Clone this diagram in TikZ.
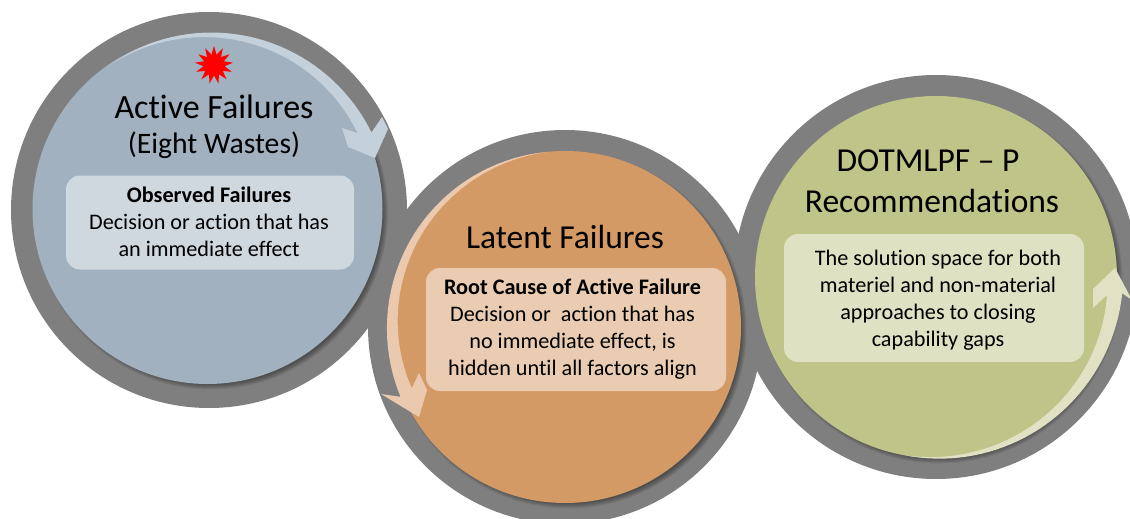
\documentclass[tikz,border=0pt]{standalone}
\usepackage{fontspec}
\usetikzlibrary{shapes.geometric}
\setmainfont[Ligatures=NoCommon]{Carlito}
\definecolor{ringgray}{HTML}{7F7F7F}
\definecolor{activeblue}{HTML}{A1B1BF}
\definecolor{activeband}{HTML}{C4D0DA}
\definecolor{latentorange}{HTML}{D49A66}
\definecolor{latentband}{HTML}{EAC9AF}
\definecolor{solutiongreen}{HTML}{BFC488}
\definecolor{solutionband}{HTML}{E0E2C3}
\tikzset{
    ring/.style={circle, fill=ringgray, inner sep=0pt},
    disk/.style={circle, inner sep=0pt},
    softshadow/.style={black, opacity=0.07},
    panel/.style={rectangle, rounded corners=14pt, fill=white, fill opacity=0.5, inner sep=0pt},
    titletext/.style={font=\fontsize{33.5}{38}\selectfont, anchor=base},
    paneltext/.style={font=\fontsize{22.2}{27}\selectfont, align=center, inner sep=0pt}
}
\begin{document}
\begin{tikzpicture}[x=1pt, y=-1pt]
        \useasboundingbox (0,0) rectangle (1130,519);
        \clip (0,0) rectangle (1130,519);
        % grey rings
        \node[ring, minimum size=396pt] (activering) at (209,210) {};
        \node[ring, minimum size=394pt] (latentring) at (565,327) {};
        \node[ring, minimum size=404pt] (solutionring) at (936,277) {};
        % shadows under the disks
        \foreach \k in {0,...,5} {
            \fill[softshadow] (211,212.5) circle[radius=172pt+\k pt];
            \fill[softshadow] (568.5,330.5) circle[radius=173pt+\k pt];
            \fill[softshadow] (939.5,280.5) circle[radius=178pt+\k pt];
        }
        % disks
        \node[disk, fill=activeblue, minimum size=350pt] (activedisk) at (207.5,209) {};
        \node[disk, fill=latentorange, minimum size=352pt] (latentdisk) at (565,327) {};
        \node[disk, fill=solutiongreen, minimum size=362pt] (solutiondisk) at (936,277) {};
        % curved arrows
        \fill[activeband] plot[domain=-125:-25, samples=40] ({207.5+(174+0.07*(\x+125))*cos(\x)}, {209+(174+0.07*(\x+125))*sin(\x)})
            -- (382,117) -- (388,129) -- (375,158) -- (348,147) -- (342,128) -- (357,133)
            -- plot[domain=-27:-125, samples=40] ({207.5+(174-0.06*(\x+125))*cos(\x)}, {209+(174-0.06*(\x+125))*sin(\x)}) -- cycle;
        \fill[latentband] plot[domain=264:157, samples=40] ({565+(176+0.025*(264-\x))*cos(\x)}, {327+(176+0.025*(264-\x))*sin(\x)})
            -- (381,394) -- (419,417) -- (427,390) -- (419,373) -- (412,388)
            -- plot[domain=158:264, samples=40] ({565+(176-0.104*(264-\x))*cos(\x)}, {327+(176-0.104*(264-\x))*sin(\x)}) -- cycle;
        \fill[solutionband] plot[domain=100:5, samples=40] ({936+(181+0.063*(100-\x))*cos(\x)}, {277+(181+0.063*(100-\x))*sin(\x)})
            -- (1132,300) -- (1115,268) -- (1093,289) -- (1093,308) -- (1107,295)
            -- plot[domain=6:100, samples=40] ({936+(181-0.096*(100-\x))*cos(\x)}, {277+(181-0.096*(100-\x))*sin(\x)}) -- cycle;
        % burst
        \node[star, star points=13, star point ratio=1.8, fill=red, inner sep=0pt, minimum size=38pt] (burst) at (214,65) {};
        % panels
        \node[panel, minimum width=288pt, minimum height=94pt] (observedbox) at (210,222.5) {};
        \node[panel, minimum width=300pt, minimum height=123pt] (rootbox) at (576,329.5) {};
        \node[panel, minimum width=300pt, minimum height=128pt] (gapbox) at (934,298) {};
        % titles
        \node[titletext, font=\fontsize{34}{38}\selectfont] (activetitle) at (214,118) {Active Failures};
        \node[titletext, font=\fontsize{29.7}{34}\selectfont] (wastes) at (214,153) {(Eight Wastes)};
        \node[titletext] (latenttitle) at (565,248) {Latent Failures};
        \node[titletext] (dotmlpf) at (928,171) {DOTMLPF -- P};
        \node[titletext] (recommend) at (932,212.5) {Recommendations};
        % panel texts
        \node[paneltext] (observedtext) at (209,222) {\textbf{Observed Failures}\\Decision or action that has\\an immediate effect};
        \node[paneltext] (roottext) at (572.5,329) {\textbf{Root Cause of Active Failure}\\Decision or\ \ action that has\\no immediate effect, is\\hidden until all factors align};
        \node[paneltext] (gaptext) at (938,300) {The solution space for both\\materiel and non-material\\approaches to closing\\capability gaps};
    \end{tikzpicture}
\end{document}
